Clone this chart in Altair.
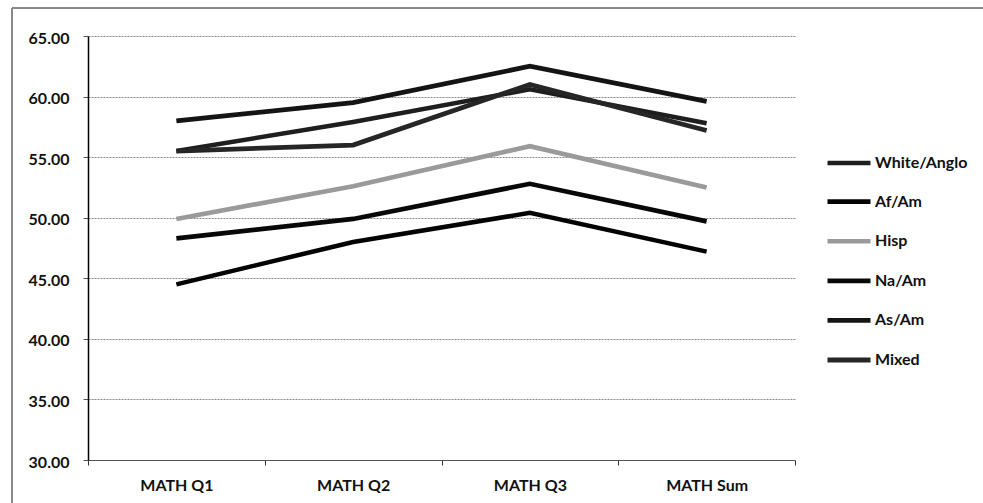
import altair as alt
import pandas as pd

categories = ["MATH Q1", "MATH Q2", "MATH Q3", "MATH Sum"]
groups = ["White/Anglo", "Af/Am", "Hisp", "Na/Am", "As/Am", "Mixed"]
white_anglo = [55.5, 57.9, 60.6, 57.8]
af_am = [44.5, 48.0, 50.4, 47.2]
hisp = [49.9, 52.6, 55.9, 52.5]
na_am = [48.3, 49.9, 52.8, 49.7]
as_am = [58.0, 59.5, 62.5, 59.6]
mixed = [55.5, 56.0, 61.0, 57.2]

series = [white_anglo, af_am, hisp, na_am, as_am, mixed]
colors = ["#1e1e1e", "#030303", "#9a9a9a", "#080808", "#141414", "#262626"]
widths = [4.5, 4.8, 3.5, 4.8, 4.5, 4.5]

rows = []
for g, vals in zip(groups, series):
    for c, v in zip(categories, vals):
        rows.append({"Group": g, "Category": c, "Score": v, "order": groups.index(g)})
df = pd.DataFrame(rows)

FONT = "Lato"

lines = alt.Chart(df).mark_line().encode(
    x=alt.X("Category:N", sort=categories, title=None,
            scale=alt.Scale(type="band", paddingInner=0, paddingOuter=0),
            axis=alt.Axis(labelAngle=0, tickBand="extent", domainColor="#555",
                          tickColor="#333", tickSize=5, labelPadding=12,
                          labelFontSize=16, labelFontWeight="bold", labelColor="#111",
                          labelFont=FONT, grid=False)),
    y=alt.Y("Score:Q", title=None,
            scale=alt.Scale(domain=[30, 65], nice=False, zero=False),
            axis=alt.Axis(values=[30, 35, 40, 45, 50, 55, 60, 65], format=".2f",
                          domainColor="#000", domainWidth=1.5, tickColor="#555", tickSize=5,
                          labelPadding=14, labelFontSize=16, labelFontWeight="bold",
                          labelColor="#111", labelFont=FONT, labelOffset=2,
                          gridColor="#8a8a8a", gridDash=[2, 1], gridWidth=1)),
    color=alt.Color("Group:N", sort=groups,
                    scale=alt.Scale(domain=groups, range=colors),
                    legend=alt.Legend(title=None, orient="none", legendX=737, legendY=103,
                                      symbolType="stroke", symbolSize=1849,
                                      symbolStrokeWidth=4, rowPadding=5.6,
                                      labelFontSize=16, labelFontWeight="bold",
                                      labelFont=FONT, labelColor="#111",
                                      labelOffset=2)),
    strokeWidth=alt.StrokeWidth("Group:N", sort=groups,
                                scale=alt.Scale(domain=groups, range=widths),
                                legend=None),
    order=alt.Order("order:Q"),
    detail="Group:N",
)

frame = alt.Chart(df).mark_rect(fill=None, stroke="#888", strokeWidth=1).encode(
    x=alt.value(-76), x2=alt.value(905), y=alt.value(-28), y2=alt.value(480)
)

chart = alt.layer(frame, lines).properties(
    width=707, height=424,
    padding={"left": 88, "top": 36, "right": 188, "bottom": 43},
    autosize=alt.AutoSizeParams(type="none"),
    background="white",
).configure_view(stroke=None)

chart.save("out.html", embed_options={"renderer": "svg", "actions": False})
